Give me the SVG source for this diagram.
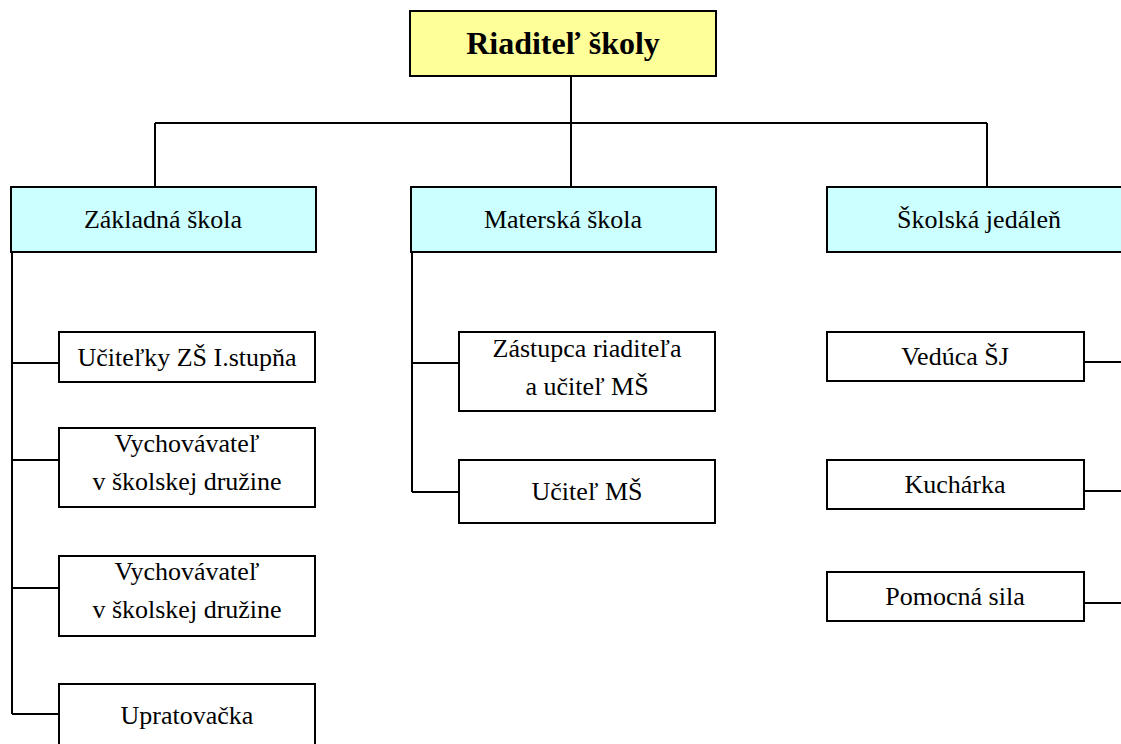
<svg xmlns="http://www.w3.org/2000/svg" width="1121" height="744" viewBox="0 0 1121 744">
<style>
.box{fill:#fff;stroke:#000;stroke-width:2}
.top{fill:#FFFF99;stroke:#000;stroke-width:2}
.sec{fill:#CCFFFF;stroke:#000;stroke-width:2}
.ln{fill:none;stroke:#000;stroke-width:2}
text{font-family:"Liberation Serif","Times New Roman",serif;font-size:26px;fill:#000;text-anchor:middle}
.b{font-weight:bold;font-size:32px}
</style>
<rect width="1121" height="744" fill="#fff"/>
<g id="connectors">
<path class="ln" d="M571 76V123M155 123H987M155 123V187M571 123V187M987 123V187"/>
<path class="ln" d="M12 252V714M12 363H59M12 460H59M12 588H59M12 714H59"/>
<path class="ln" d="M412 252V492M412 363H459M412 492H459"/>
<path class="ln" d="M1084 362H1131M1084 491H1131M1084 603H1131M1131 252V603"/>
</g>
<g id="riaditel"><rect class="top" x="410" y="11" width="306" height="65"/><text class="b" x="563" y="54">Riaditeľ školy</text></g>
<g id="zakladna"><rect class="sec" x="11" y="187" width="305" height="65"/><text x="163" y="228">Základná škola</text></g>
<g id="materska"><rect class="sec" x="411" y="187" width="305" height="65"/><text x="563" y="228">Materská škola</text></g>
<g id="jedalen"><rect class="sec" x="827" y="187" width="305" height="65"/><text x="979" y="228">Školská jedáleň</text></g>
<g id="ucitelky"><rect class="box" x="59" y="332" width="256" height="50"/><text x="187" y="366">Učiteľky ZŠ I.stupňa</text></g>
<g id="vych1"><rect class="box" x="59" y="428" width="256" height="79"/><text x="187" y="452">Vychovávateľ</text><text x="187" y="490">v školskej družine</text></g>
<g id="vych2"><rect class="box" x="59" y="556" width="256" height="80"/><text x="187" y="580">Vychovávateľ</text><text x="187" y="618">v školskej družine</text></g>
<g id="upratovacka"><rect class="box" x="59" y="684" width="256" height="80"/><text x="187" y="724">Upratovačka</text></g>
<g id="zastupca"><rect class="box" x="459" y="332" width="256" height="79"/><text x="587" y="357">Zástupca riaditeľa</text><text x="587" y="395">a učiteľ MŠ</text></g>
<g id="ucitelms"><rect class="box" x="459" y="460" width="256" height="63"/><text x="587" y="500">Učiteľ MŠ</text></g>
<g id="veduca"><rect class="box" x="827" y="332" width="257" height="49"/><text x="955" y="365">Vedúca ŠJ</text></g>
<g id="kucharka"><rect class="box" x="827" y="460" width="257" height="49"/><text x="955" y="493">Kuchárka</text></g>
<g id="pomocna"><rect class="box" x="827" y="572" width="257" height="49"/><text x="955" y="605">Pomocná sila</text></g>
</svg>
